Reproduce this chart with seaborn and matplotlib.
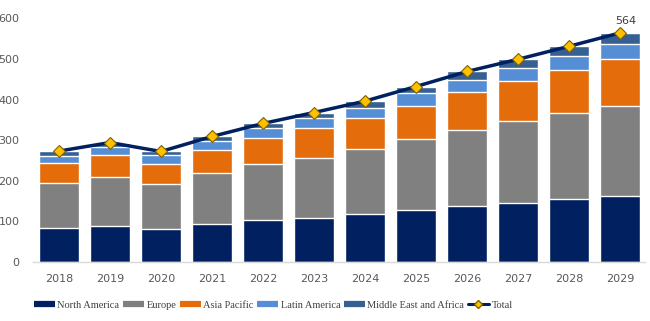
import matplotlib
matplotlib.use("Agg")
import matplotlib.pyplot as plt
import seaborn as sns
import numpy as np
import pandas as pd
from matplotlib.lines import Line2D

years = ["2018", "2019", "2020", "2021", "2022", "2023", "2024", "2025", "2026", "2027", "2028", "2029"]
north_america = [83, 88, 81, 93, 103, 108, 118, 127, 137, 145, 155, 162]
europe = [111, 121, 112, 126, 138, 149, 159, 175, 188, 201, 211, 223]
asia_pacific = [49, 54, 49, 56, 65, 73, 77, 83, 93, 100, 107, 115]
latin_america = [18, 21, 21, 23, 24, 24, 25, 31, 30, 32, 34, 37]
mea = [12, 10, 9, 11, 11, 14, 17, 16, 21, 21, 24, 27]
total = [273, 294, 272, 309, 341, 368, 396, 432, 469, 499, 531, 564]

series = ["North America", "Europe", "Asia Pacific", "Latin America", "Middle East and Africa"]
values = [north_america, europe, asia_pacific, latin_america, mea]
colors = ["#002060", "#808080", "#E46C0A", "#558ED5", "#376092"]

sns.set_theme(style="white")
plt.rcParams["font.family"] = ["DejaVu Sans"]

fig = plt.figure(figsize=(6.5, 3.21), dpi=100)
ax = fig.add_axes([0.0515, 0.184, 0.9415, 0.759])

cum = np.cumsum(np.array(values), axis=0)
for i in range(len(series) - 1, -1, -1):
    df = pd.DataFrame({"year": years, "value": cum[i]})
    sns.barplot(data=df, x="year", y="value", color=colors[i], width=0.78,
                saturation=1, ax=ax, order=years)

x = np.arange(len(years))
ax.plot(x, total, color="#002060", lw=2.5, zorder=5,
        marker="D", markersize=6.5, markerfacecolor="#FFC000",
        markeredgecolor="#7F6000", markeredgewidth=0.8)
ax.annotate(str(total[-1]), (x[-1], total[-1]), xytext=(4, 5), textcoords="offset points",
            ha="center", va="bottom", fontsize=8, color="#404040")

ax.set_ylim(0, 600)
ax.set_xlim(-0.5, len(years) - 0.5)
ax.set_yticks(range(0, 601, 100))
ax.set_xlabel("")
ax.set_ylabel("")
for s in ["top", "right", "left"]:
    ax.spines[s].set_visible(False)
ax.spines["bottom"].set_color("#D9D9D9")
ax.spines["bottom"].set_linewidth(1)
ax.tick_params(axis="both", length=0, labelsize=8, colors="#595959")
ax.tick_params(axis="y", pad=10)
ax.tick_params(axis="x", pad=9)

handles = [Line2D([0], [0], color=c, lw=4.5, solid_capstyle="butt") for c in colors]
handles.append(Line2D([0], [0], color="#002060", lw=2.2, marker="D", markersize=4.5,
                      markerfacecolor="#FFC000", markeredgecolor="#7F6000"))
labels = series + ["Total"]
fig.legend(handles, labels, loc="center left", bbox_to_anchor=(0.052, 0.05), ncol=6, frameon=False,
           prop={"family": "Liberation Serif", "size": 7.5}, handlelength=2.0,
           handletextpad=0.25, columnspacing=0.35, labelcolor="#404040", borderpad=0,
           borderaxespad=0)

fig.savefig("out.png", dpi=100)
